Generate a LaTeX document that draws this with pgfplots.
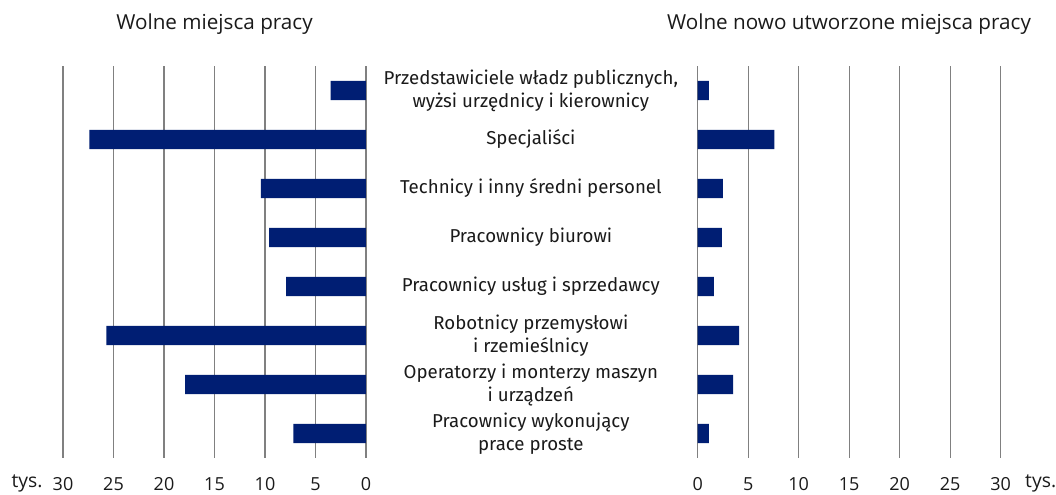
\documentclass[border=0pt]{standalone}
\usepackage{fontspec}
\setmainfont{Fira Sans}
\newfontfamily\osans{Open Sans}
\usepackage{pgfplots}
\pgfplotsset{compat=1.18}
\definecolor{navy}{HTML}{001E73}
\definecolor{gridgray}{HTML}{808080}
\definecolor{txt}{HTML}{1A1A1A}

\pgfplotsset{half/.style={
  scale only axis, width=227.25pt, height=294pt,
  xmin=0, xmax=30, ymin=-0.5, ymax=7.5, y dir=reverse,
  xtick={0,5,...,30}, ytick={0,...,7},
  axis line style={draw=none}, tick style={draw=none},
  xmajorgrids, grid style={gridgray, line width=0.8pt},
  xticklabel style={anchor=center, yshift=-19.5pt, font=\osans\fontsize{13.5}{15}\selectfont, text=txt},
  /pgf/number format/assume math mode=true,
  xbar, bar width=0.39,
}}

\begin{document}
\begin{tikzpicture}
\path[use as bounding box] (0pt,0pt) rectangle (792pt,371.25pt);

\begin{axis}[half, at={(47.25pt,27.75pt)}, anchor=south west, x dir=reverse,
  yticklabels={}]
\addplot[fill=navy, draw=none] coordinates {
  (3.5,0) (27.4,1) (10.4,2) (9.6,3) (7.9,4) (25.7,5) (17.9,6) (7.2,7) };
\end{axis}

\begin{axis}[half, at={(523.3pt,27.75pt)}, anchor=south west,
  yticklabel pos=left,
  yticklabel style={anchor=center, align=center, xshift=-120.9pt,
    font=\fontsize{14}{17.25}\selectfont, text=txt},
  yticklabels={
    {Przedstawiciele władz publicznych,\\wyżsi urzędnicy i kierownicy},
    {Specjaliści},
    {Technicy i inny średni personel},
    {Pracownicy biurowi},
    {Pracownicy usług i sprzedawcy},
    {Robotnicy przemysłowi\\i rzemieślnicy},
    {Operatorzy i monterzy maszyn\\i urządzeń},
    {Pracownicy wykonujący\\prace proste}}]
\addplot[fill=navy, draw=none] coordinates {
  (1.1,0) (7.6,1) (2.5,2) (2.4,3) (1.6,4) (4.1,5) (3.5,6) (1.1,7) };
\end{axis}

\node[text=txt, font=\osans\fontsize{15.5}{17}\selectfont] at (160.9pt,353.5pt) {Wolne miejsca pracy};
\node[text=txt, font=\osans\fontsize{15.5}{17}\selectfont] at (636.75pt,353.5pt) {Wolne nowo utworzone miejsca pracy};
\node[text=txt, font=\osans\fontsize{14.5}{15}\selectfont] at (20.25pt,8.5pt) {tys.};
\node[text=txt, font=\osans\fontsize{14.5}{15}\selectfont] at (780.5pt,8.5pt) {tys.};
\end{tikzpicture}
\end{document}
